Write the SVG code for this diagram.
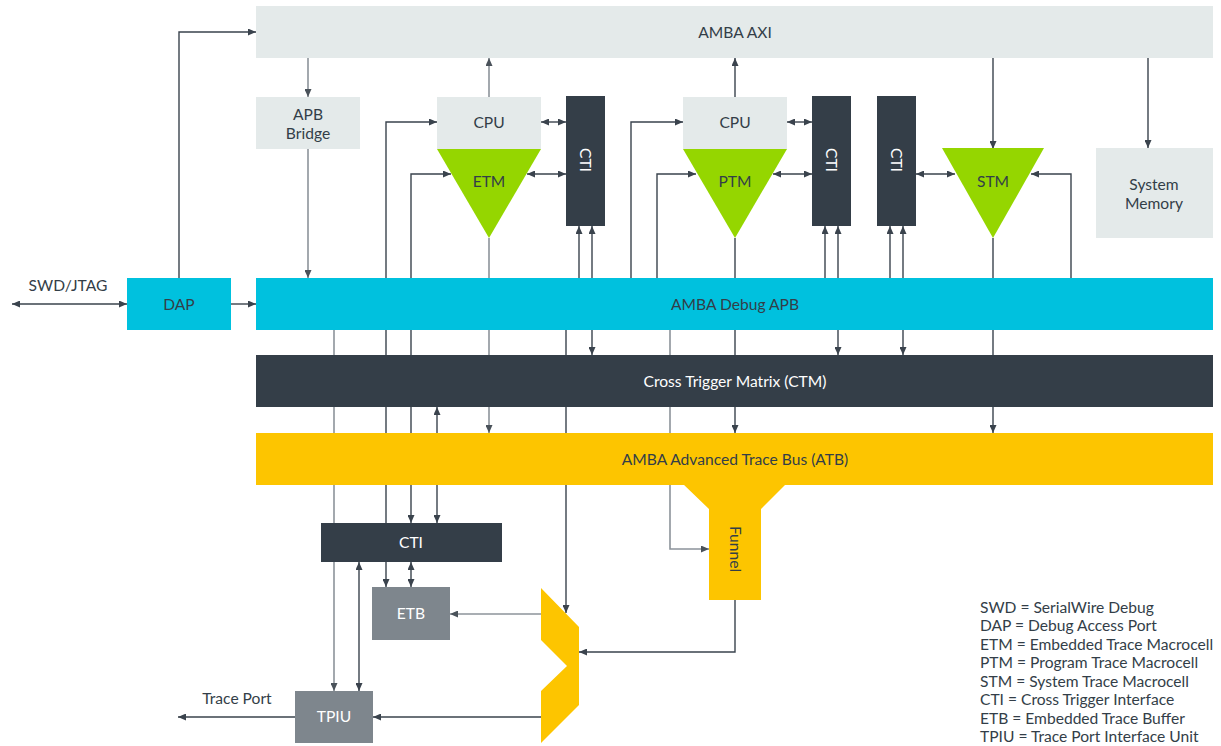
<svg xmlns="http://www.w3.org/2000/svg" width="1221" height="746" viewBox="0 0 1221 746">
<defs>
<style>
.t{font-family:Lato,"Liberation Sans",sans-serif;font-size:15.6px;fill:#333e48;text-anchor:middle}
.w{fill:#ffffff}
.lg{font-family:Lato,"Liberation Sans",sans-serif;font-size:15.6px;fill:#333e48}
.cd{fill:none;stroke:#3a434d;stroke-width:1.4}
.cg{fill:none;stroke:#8c939a;stroke-width:1.6}
.cd.e{marker-end:url(#ad)}
.cd.b{marker-end:url(#ad);marker-start:url(#ad)}
.cg.e{marker-end:url(#ag)}
.lt{fill:#e4eaea}
.cy{fill:#00c1de}
.dk{fill:#343e48}
.ye{fill:#fdc500}
.gr{fill:#95d600}
.gy{fill:#7e868d}
</style>
<marker id="ad" viewBox="0 0 8 7" refX="8" refY="3.5" markerWidth="8" markerHeight="7" markerUnits="userSpaceOnUse" orient="auto-start-reverse"><path d="M0,0 L8,3.5 L0,7 z" fill="#3a434d"/></marker>
<marker id="ag" viewBox="0 0 8 7" refX="8" refY="3.5" markerWidth="8" markerHeight="7" markerUnits="userSpaceOnUse" orient="auto-start-reverse"><path d="M0,0 L8,3.5 L0,7 z" fill="#4a525a"/></marker>
</defs>
<rect width="1221" height="746" fill="#ffffff"/>
<g id="connectors">
<path class="cd e" d="M179,278 V32 H256"/>
<path class="cd b" d="M12,304 H127"/>
<path class="cd e" d="M231,304 H256"/>
<path class="cg e" d="M308,58 V97"/>
<path class="cg e" d="M308,149 V278"/>
<path class="cg e" d="M489,97 V58"/>
<path class="cd e" d="M735,97 V58"/>
<path class="cd e" d="M993,58 V149"/>
<path class="cd e" d="M1148,58 V148"/>
<path class="cd b" d="M541,122 H566"/>
<path class="cd b" d="M527,174 H566"/>
<path class="cd b" d="M787,122 H812"/>
<path class="cd b" d="M773,174 H812"/>
<path class="cd b" d="M916,174 H955"/>
<path class="cd e" d="M1071,278 V174 H1031"/>
<path class="cd e" d="M657,278 V174 H696"/>
<path class="cd e" d="M631,278 V122 H683"/>
<path class="cd b" d="M386,587 V122 H437"/>
<path class="cd b" d="M411,523 V174 H451"/>
<path class="cd e" d="M579,278 V226"/>
<path class="cd b" d="M592,355 V226"/>
<path class="cd e" d="M825,278 V226"/>
<path class="cd b" d="M838,355 V226"/>
<path class="cd e" d="M890,278 V226"/>
<path class="cd b" d="M903,355 V226"/>
<path class="cg e" d="M489,238 V433"/>
<path class="cd e" d="M735,238 V433"/>
<path class="cd e" d="M993,238 V433"/>
<path class="cg e" d="M334,330 V691"/>
<path class="cd e" d="M566,330 V613"/>
<path class="cg e" d="M670,330 V549 H709"/>
<path class="cd b" d="M437,407 V523"/>
<path class="cd b" d="M359,562 V691"/>
<path class="cd b" d="M411,562 V587"/>
<path class="cg e" d="M541,614 H450"/>
<path class="cd e" d="M541,717 H373"/>
<path class="cd e" d="M735,600 V652 H579"/>
<path class="cd e" d="M295,717 H178"/>
</g>
<g id="axi"><rect class="lt" x="256" y="6" width="957" height="52"/><text class="t" x="735" y="38">AMBA AXI</text></g>
<g id="apb-bridge"><rect class="lt" x="256" y="97" width="104" height="52"/><text class="t" x="308" y="120">APB</text><text class="t" x="308" y="139">Bridge</text></g>
<g id="dap"><rect class="cy" x="127" y="278" width="104" height="52"/><text class="t" x="179" y="310">DAP</text></g>
<g id="swd-label"><text class="t" x="68" y="291">SWD/JTAG</text></g>
<g id="debug-apb"><rect class="cy" x="256" y="278" width="957" height="52"/><text class="t" x="735" y="310">AMBA Debug APB</text></g>
<g id="ctm"><rect class="dk" x="256" y="355" width="957" height="52"/><text class="t w" x="735" y="387">Cross Trigger Matrix (CTM)</text></g>
<g id="funnel"><polygon class="ye" points="683,484 786,484 761,509 761,600 709,600 709,509"/><text class="t" transform="translate(735,549) rotate(90)" y="5.5">Funnel</text></g>
<g id="atb"><rect class="ye" x="256" y="433" width="957" height="52"/><text class="t" x="735" y="465">AMBA Advanced Trace Bus (ATB)</text></g>
<g id="cpu1"><rect class="lt" x="437" y="97" width="104" height="52"/><text class="t" x="489" y="128">CPU</text></g>
<g id="etm"><polygon class="gr" points="437,149 541,149 489,238"/><text class="t" x="489" y="187">ETM</text></g>
<g id="cti1"><rect class="dk" x="566" y="96" width="39" height="130"/><text class="t w" transform="translate(585.5,160) rotate(90)" y="5.5">CTI</text></g>
<g id="cpu2"><rect class="lt" x="683" y="97" width="104" height="52"/><text class="t" x="735" y="128">CPU</text></g>
<g id="ptm"><polygon class="gr" points="683,149 787,149 735,238"/><text class="t" x="735" y="187">PTM</text></g>
<g id="cti2"><rect class="dk" x="812" y="96" width="39" height="130"/><text class="t w" transform="translate(831.5,160) rotate(90)" y="5.5">CTI</text></g>
<g id="cti3"><rect class="dk" x="877" y="96" width="39" height="130"/><text class="t w" transform="translate(896.5,160) rotate(90)" y="5.5">CTI</text></g>
<g id="stm"><polygon class="gr" points="942,148 1044,148 993,238"/><text class="t" x="993" y="187">STM</text></g>
<g id="system-memory"><rect class="lt" x="1096" y="148" width="117" height="90"/><text class="t" x="1154" y="190">System</text><text class="t" x="1154" y="209">Memory</text></g>
<g id="cti4"><rect class="dk" x="321" y="523" width="181" height="39"/><text class="t w" x="411" y="548">CTI</text></g>
<g id="etb"><rect class="gy" x="372" y="587" width="78" height="53"/><text class="t w" x="411" y="619">ETB</text></g>
<g id="tpiu"><rect class="gy" x="295" y="691" width="78" height="52"/><text class="t w" x="334" y="722">TPIU</text></g>
<g id="trace-port-label"><text class="t" x="237" y="704">Trace Port</text></g>
<g id="mux"><polygon class="ye" points="541,588 579,627 579,705 541,743 541,691 567,666 541,640"/></g>
<g id="legend">
<text class="lg" x="980" y="612.5">SWD = SerialWire Debug</text>
<text class="lg" x="980" y="631">DAP = Debug Access Port</text>
<text class="lg" x="980" y="649.5">ETM = Embedded Trace Macrocell</text>
<text class="lg" x="980" y="668">PTM = Program Trace Macrocell</text>
<text class="lg" x="980" y="686.5">STM = System Trace Macrocell</text>
<text class="lg" x="980" y="705">CTI = Cross Trigger Interface</text>
<text class="lg" x="980" y="723.5">ETB = Embedded Trace Buffer</text>
<text class="lg" x="980" y="742">TPIU = Trace Port Interface Unit</text>
</g>
</svg>
